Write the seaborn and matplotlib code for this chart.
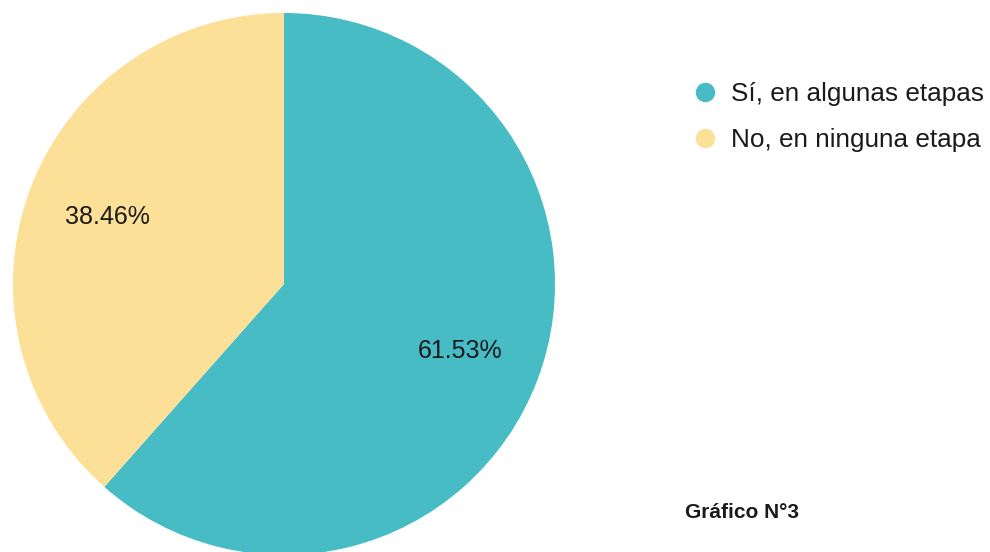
import matplotlib
matplotlib.use("Agg")
import matplotlib.pyplot as plt
import seaborn as sns
from matplotlib.lines import Line2D

# data
categories = ["Sí, en algunas etapas", "No, en ninguna etapa"]
values = [61.53, 38.46]
pct_labels = ["61.53%", "38.46%"]
colors = ["#47BCC5", "#FDE097"]

sns.set_theme(style="white")
plt.rcParams["font.family"] = ["Liberation Sans", "DejaVu Sans"]

fig = plt.figure(figsize=(9.9, 5.52), dpi=100)
# square axes holding the pie (radius 1 -> ~271 px)
ax = fig.add_axes([13 / 990, -3 / 552, 542 / 990, 542 / 552])

labels_iter = iter(pct_labels)
wedges, _, autotexts = ax.pie(
    values,
    colors=colors,
    startangle=90,
    counterclock=False,
    autopct=lambda p: next(labels_iter),
    pctdistance=0.695,
    radius=1,
    wedgeprops={"linewidth": 0, "edgecolor": "none"},
    textprops={"fontsize": 18, "color": "#1a1a1a"},
)
ax.set_xlim(-1, 1)
ax.set_ylim(-1, 1)
ax.set_aspect("equal")
ax.axis("off")

handles = [
    Line2D([0], [0], marker="o", linestyle="none", markersize=13,
           markerfacecolor=c, markeredgecolor=c)
    for c in colors
]
fig.legend(
    handles, categories,
    loc="upper left", bbox_to_anchor=(695 / 990, 1 - 82 / 552),
    frameon=False, fontsize=18.8, handlelength=0.8, handletextpad=0.57,
    labelspacing=0.84, borderpad=0, borderaxespad=0,
    labelcolor="#1a1a1a",
)

fig.text(685 / 990, 1 - 512 / 552, "Gráfico N°3", fontsize=15,
         fontweight="bold", color="#1a1a1a", ha="left", va="center")

fig.savefig("out.png", dpi=100)
